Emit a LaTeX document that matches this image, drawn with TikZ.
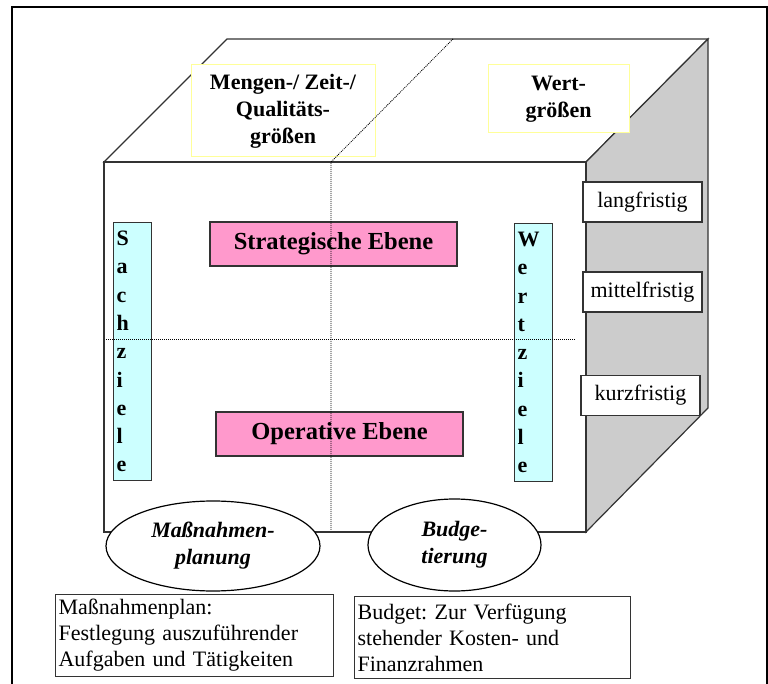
\documentclass[tikz,border=0pt]{standalone}
\usepackage{fontspec}
\setmainfont{Liberation Serif}
\usepackage{tikz}
\usetikzlibrary{shapes.geometric}
\definecolor{ebenepink}{HTML}{FF99CC}
\definecolor{zielcyan}{HTML}{CCFFFF}
\definecolor{seitengrau}{HTML}{CCCCCC}
\definecolor{kopfgelb}{HTML}{FFFF99}
\frenchspacing

\begin{document}
\begin{tikzpicture}[x=1pt, y=-1pt, line width=1.2pt,
        every node/.style={font=\fontsize{22}{27}\selectfont},
        kante/.style={draw=black!80},
        ebene/.style={draw=black!80, fill=ebenepink, minimum width=247, minimum height=44,
            font=\fontsize{24.5}{27}\selectfont\bfseries},
        ziel/.style={draw=black!80, fill=zielcyan, anchor=north west, minimum width=38,
            minimum height=258, inner xsep=3pt, text width=32pt, align=left,
            font=\fontsize{22}{28.3}\selectfont\bfseries},
        frist/.style={draw=black!80, fill=white, minimum width=119, minimum height=40},
        kopf/.style={draw=kopfgelb, fill=white, align=center, line width=1pt,
            font=\fontsize{22}{27}\selectfont\bfseries},
        planung/.style={ellipse, draw, fill=white, inner sep=0pt, align=center,
            font=\fontsize{22}{27}\selectfont\bfseries\itshape},
        erlaeuterung/.style={draw=black!80, anchor=north west, align=left, inner xsep=3pt,
            minimum height=82, font=\fontsize{22}{26}\selectfont},
        raster/.style={line width=0.8pt, dash pattern=on 1pt off 1pt}]
            \useasboundingbox (0,0) rectangle (768,684);
            \draw[line width=2.5pt] (12,684) -- (12,7) -- (767,7) -- (767,684);

            \coordinate (vol) at (104,162);
            \coordinate (vor) at (586,162);
            \coordinate (vul) at (104,532);
            \coordinate (vur) at (586,532);
            \coordinate (hol) at (227,39);
            \coordinate (hor) at (708,39);
            \coordinate (hur) at (708,408);

            \draw[kante, fill=white] (vol) -- (hol) -- (hor) -- (vor) -- cycle;
            \draw[kante, fill=seitengrau] (vor) -- (hor) -- (hur) -- (vur) -- cycle;
            \draw[kante, fill=white] (vol) rectangle (vur);

            \node [kopf, minimum width=184, minimum height=92] (mengen) at (283,111)
                {Mengen-/ Zeit-/\\Qualitäts-\\größen};
            \node [kopf, minimum width=141, minimum height=68] (wert) at (558.5,99)
                {Wert-\\größen};

            \node [ebene] (strategisch) at (333.5,244) {Strategische Ebene};
            \node [ebene] (operativ) at (339.5,434) {Operative Ebene};

            \node [ziel] (sachziele) at (113,222) {S\\a\\c\\h\\z\\i\\e\\l\\e};
            \node [ziel] (wertziele) at (514,223) {W\\e\\r\\t\\z\\i\\e\\l\\e};

            \node [frist] (lang) at (642.5,202) {langfristig};
            \node [frist] (mittel) at (642.5,292) {mittelfristig};
            \node [frist] (kurz) at (640.5,395.5) {kurzfristig};

            \coordinate (trenn) at (331,162);
            \coordinate (trennunten) at (331,530);
            \coordinate (ebenelinks) at (106,339);
            \coordinate (ebenerechts) at (575,339);
            \draw[raster] (453,39) -- (trenn) -- (trennunten);
            \draw[raster] (ebenelinks) -- (ebenerechts);

            \node [planung, minimum width=214, minimum height=90] (massnahmen) at (213,546)
                {Maßnahmen-\\planung};
            \node [planung, minimum width=173, minimum height=92] (budget) at (454.5,545)
                {Budge-\\tierung};

            \node [erlaeuterung, text width=272pt] (plan) at (55,594)
                {Maßnahmenplan:\\Festlegung auszuführender\\Aufgaben und Tätigkeiten};
            \node [erlaeuterung, text width=270pt] (rahmen) at (354,596)
                {Budget: Zur Verfügung\\stehender Kosten- und\\Finanzrahmen};
\end{tikzpicture}
\end{document}
